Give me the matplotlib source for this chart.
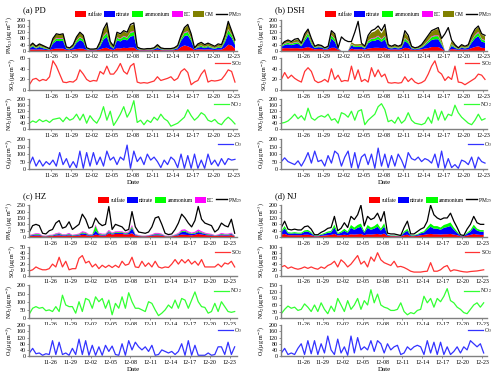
import numpy as np
import matplotlib
matplotlib.use("Agg")
import matplotlib.pyplot as plt
from matplotlib.patches import Patch
from matplotlib.lines import Line2D

plt.rcParams['font.family'] = ['Liberation Serif', 'DejaVu Serif']
plt.rcParams['mathtext.fontset'] = 'stix'

tick_days = [0, 3, 6, 9, 12, 15, 18, 21, 24, 27]
tick_labels = ["11-26", "11-29", "12-02", "12-05", "12-08", "12-11", "12-14", "12-17", "12-20", "12-23"]

# ---------------- PD ----------------
pd_pm = [30,50,30,45,35,25,15,80,110,105,110,25,20,40,90,120,100,20,12,12,15,60,140,180,60,30,120,110,130,120,170,180,25,15,12,15,15,20,40,20,15,15,15,20,35,100,150,170,110,20,45,55,40,50,40,30,45,40,100,190,130,70]
pd_sulfate = [8,10,8,10,8,6,5,12,15,15,15,6,5,8,12,15,14,5,4,4,5,10,18,20,10,6,18,16,20,18,22,22,6,4,4,4,4,5,8,5,4,4,4,5,8,25,35,30,20,5,10,10,8,10,8,6,8,8,20,40,35,15]
pd_nitrate = [8,18,8,15,10,6,3,35,50,48,50,6,5,12,40,55,45,5,2,2,3,20,55,70,20,8,50,45,55,50,70,75,6,3,2,3,3,5,12,5,3,3,3,5,10,40,60,70,45,5,12,15,10,15,10,8,12,10,35,70,50,25]
pd_ammonium = [4,7,4,6,5,4,2,12,15,14,15,3,3,5,13,17,14,3,2,2,2,8,20,25,8,4,16,15,18,16,25,25,3,2,2,2,2,3,5,3,2,2,2,3,4,12,20,22,15,3,6,8,6,7,6,4,6,5,14,25,18,10]
pd_ec = [1,2,1,2,1,1,1,3,4,4,4,1,1,2,3,4,3,1,1,1,1,2,5,6,2,1,4,4,4,4,5,6,1,1,1,1,1,1,2,1,1,1,1,1,1,3,5,5,4,1,2,2,2,2,2,1,2,2,3,6,4,2]
pd_om = [7,11,7,10,9,6,3,15,22,20,22,7,5,10,18,25,20,5,2,2,3,15,35,45,15,8,25,25,28,25,40,42,7,4,2,4,4,5,10,5,4,4,4,5,8,15,25,35,20,5,12,15,10,12,10,8,12,10,22,40,20,15]
pd_so2 = [10,20,22,17,20,18,25,55,45,30,15,14,16,15,20,38,30,20,16,18,17,35,30,45,30,30,38,50,35,30,45,50,15,13,14,13,15,17,25,18,20,22,25,18,22,35,40,33,10,15,18,30,38,15,18,17,18,20,28,38,35,15]
pd_no2 = [40,55,45,65,50,60,45,65,70,75,50,80,60,70,100,60,100,40,90,60,40,80,150,60,120,25,60,100,150,80,120,190,45,60,30,60,45,80,60,100,70,55,20,30,40,60,80,130,90,60,80,110,95,60,50,65,40,30,60,80,60,35]
pd_o3 = [30,80,20,60,20,50,30,60,20,110,30,70,10,50,10,120,5,110,20,110,30,80,20,120,60,80,30,80,60,160,5,120,50,80,30,100,60,80,50,10,60,30,80,60,10,100,5,90,5,100,5,60,5,100,30,60,20,70,30,70,60,65]

# ---------------- DSH ----------------
dsh_pm = [40,60,70,60,75,80,50,110,140,80,30,40,35,20,30,130,110,20,90,70,60,60,120,190,50,30,100,130,140,160,130,170,40,30,40,30,40,130,100,30,20,25,40,70,100,130,140,150,80,110,150,70,40,20,40,30,40,100,140,160,110,100]
dsh_sulfate = [15,18,18,17,18,18,15,20,25,18,10,12,12,8,10,20,20,8,0,0,0,15,10,10,12,8,15,18,20,20,18,20,10,8,10,8,10,20,18,8,6,8,10,15,18,25,25,25,15,0,0,12,10,6,10,8,10,18,25,30,20,18]
dsh_nitrate = [12,20,25,20,25,28,15,45,70,25,8,12,10,5,8,60,40,5,0,0,0,20,15,15,15,8,35,45,45,55,40,55,10,8,10,8,10,45,30,8,4,6,10,20,35,45,50,50,25,0,0,20,10,4,10,8,10,35,55,65,40,35]
dsh_ammonium = [6,8,10,8,10,10,7,15,20,10,4,6,5,3,4,20,15,3,0,0,0,8,6,6,6,4,12,15,15,18,15,18,5,4,5,4,5,15,12,4,3,4,5,8,12,18,20,20,10,0,0,8,5,3,5,4,5,12,18,22,15,12]
dsh_ec = [2,3,3,3,3,3,2,4,5,3,1,2,2,1,1,4,4,1,0,0,0,3,2,2,2,1,4,4,5,5,4,5,2,1,2,1,2,4,4,1,1,1,2,3,4,5,5,6,3,0,0,3,2,1,2,1,2,4,5,6,4,4]
dsh_om = [5,8,10,8,12,15,8,20,15,15,5,7,6,3,5,20,25,3,0,0,0,10,10,10,10,5,25,35,40,45,35,50,10,6,10,6,10,35,25,6,4,5,10,20,25,30,35,40,20,0,0,20,10,4,10,6,10,25,30,30,25,25]
dsh_so2 = [20,33,22,28,22,18,15,35,42,35,18,14,16,20,15,40,20,28,16,18,17,45,20,38,16,20,15,42,25,38,25,30,14,13,14,13,14,25,16,22,15,12,14,18,30,45,55,35,30,18,25,20,45,15,14,10,14,18,22,30,28,20]
dsh_no2 = [40,45,55,75,100,70,90,60,140,75,60,80,90,80,100,60,70,40,110,100,80,120,60,120,130,30,60,80,100,150,170,130,50,60,40,80,40,60,110,60,40,35,30,40,80,40,130,60,120,60,100,90,160,110,80,60,40,30,60,100,60,70]
dsh_o3 = [50,75,50,40,30,55,20,60,110,40,120,50,60,20,90,40,120,100,20,80,120,10,110,5,80,100,30,100,5,140,20,100,10,90,20,100,60,5,110,70,60,80,50,70,60,40,100,10,120,5,70,10,30,5,60,50,30,80,5,80,50,40]

# ---------------- HZ ----------------
hz_pm = [40,90,100,90,30,25,50,60,110,130,70,80,120,60,80,100,180,140,70,80,150,110,90,100,240,60,100,90,80,50,60,200,80,40,35,30,40,80,150,160,100,30,20,25,60,110,180,150,110,80,130,240,140,110,100,90,40,60,110,90,80,140,30]
hz_sulfate = [8,10,12,12,6,5,8,8,12,14,10,10,14,8,10,12,18,16,10,10,20,15,12,12,30,20,25,25,25,20,22,30,12,8,6,6,8,10,14,14,12,6,5,6,10,14,20,18,16,14,18,25,20,16,14,12,8,10,14,12,12,16,6]
hz_nitrate = [3,6,8,7,2,2,4,4,8,10,5,5,8,4,5,6,12,10,5,5,30,8,6,6,10,6,8,8,8,6,10,40,5,3,2,2,3,5,8,8,6,2,2,2,4,8,20,25,15,10,10,15,12,8,6,5,3,4,8,6,6,8,2]
hz_ammonium = [2,4,5,5,2,2,3,3,5,6,4,4,5,3,4,5,8,7,4,4,40,5,4,4,8,5,6,6,6,5,6,15,3,2,2,2,2,3,5,5,4,2,2,2,3,5,8,8,6,5,6,8,6,5,4,4,2,3,5,4,4,5,2]
hz_ec = [3,4,5,5,3,2,3,4,5,6,4,4,6,3,4,5,8,7,4,4,8,6,5,5,8,5,6,6,6,5,6,10,4,3,2,2,3,4,6,6,5,2,2,2,4,6,10,10,8,6,8,12,8,6,5,5,3,4,6,5,5,6,2]
hz_so2 = [8,10,15,12,10,10,12,20,15,32,15,25,10,12,12,30,35,22,25,15,20,12,18,14,18,14,18,14,25,18,20,32,15,14,25,16,22,15,25,15,13,15,14,20,28,20,28,22,28,20,25,18,28,15,15,15,15,20,15,22,20,25,15]
hz_no2 = [25,60,70,60,65,45,50,40,70,40,140,80,70,70,30,100,40,120,110,60,130,100,120,60,110,20,90,60,130,60,155,100,60,60,50,40,100,90,50,15,30,50,80,60,110,60,120,110,60,110,160,100,70,65,30,40,90,40,100,70,40,35,40]
hz_o3 = [20,50,15,20,5,15,10,100,10,90,10,20,5,50,10,110,10,100,5,70,5,60,5,70,30,65,10,5,80,5,100,40,90,60,40,60,30,70,5,10,40,30,20,30,10,30,80,5,100,5,70,5,5,5,20,5,10,60,60,10,90,10,60]

# ---------------- NJ ----------------
nj_pm = [60,100,50,45,50,45,45,65,70,50,15,15,30,40,55,60,130,40,55,90,60,130,110,140,200,70,130,110,120,150,100,160,25,20,20,15,10,60,100,20,20,35,50,60,100,200,140,120,110,120,120,150,100,60,15,10,50,80,130,90,80,80]
nj_sulfate = [15,20,12,12,12,12,12,15,15,12,5,5,8,10,12,14,20,10,12,15,12,18,16,18,20,12,18,16,18,20,16,22,8,6,6,5,4,12,15,6,6,8,12,14,18,20,18,18,16,18,18,20,16,12,5,4,10,14,20,16,14,14]
nj_nitrate = [15,35,12,10,12,10,10,18,20,12,3,3,6,10,15,16,40,10,15,25,15,40,30,40,45,15,40,30,35,45,25,45,5,3,3,2,2,15,25,4,4,6,12,15,30,45,35,35,30,40,45,50,30,15,3,2,12,20,40,25,20,20]
nj_ammonium = [8,15,7,6,7,6,6,9,10,7,2,2,4,6,8,9,18,6,8,12,8,18,14,18,20,8,18,14,16,20,12,20,3,2,2,2,2,8,12,3,3,4,6,8,14,20,16,16,14,18,20,22,14,8,2,2,6,10,18,12,10,10]
nj_so2 = [30,35,25,30,25,22,25,30,25,30,25,22,30,25,35,40,50,30,55,45,30,40,55,70,40,50,30,65,50,80,55,45,40,35,50,30,32,28,22,15,12,12,12,14,15,45,15,15,20,30,35,15,20,18,15,13,12,14,15,16,18,20]
nj_no2 = [20,40,55,45,50,35,40,65,50,30,60,30,70,40,20,55,30,90,60,30,80,40,60,90,40,80,60,130,70,110,60,50,45,35,35,40,70,30,15,25,20,35,40,100,70,90,50,90,75,100,135,80,70,50,40,25,20,40,60,70,50,70]
nj_o3 = [20,50,10,20,10,50,80,10,100,15,100,10,80,20,130,40,10,110,20,60,5,130,20,120,40,60,40,100,30,100,80,20,80,40,60,70,10,20,60,40,60,70,60,10,100,20,90,10,90,10,60,10,30,60,20,60,40,100,80,60,80,20]

C_SUL, C_NIT, C_AMM, C_EC, C_OM = '#FF0000', '#0000FF', '#00FF00', '#FF00FF', '#808000'
C_SO2, C_NO2, C_O3 = '#FF3333', '#33FF33', '#3333FF'
FS = 4.3
LFS = 4.0
SPC = '#808080'

fig = plt.figure(figsize=(5.0, 3.8), dpi=100)

def style(ax, xmax, ylim, yticks):
    ax.set_xlim(-3.3, xmax)
    ax.set_ylim(*ylim)
    ax.set_yticks(yticks)
    ax.set_xticks(tick_days)
    ax.set_xticklabels(tick_labels)
    for s in ['top', 'right']:
        ax.spines[s].set_visible(False)
    for s in ['left', 'bottom']:
        ax.spines[s].set_color(SPC)
        ax.spines[s].set_linewidth(1.0)
    ax.tick_params(direction='out', length=1.5, width=0.6, colors='black', labelsize=FS, pad=1)
    ax.tick_params(axis='both', color=SPC)

def panel(x0, w, rows, title, xmax, comps, comp_names, comp_cols, pm, pmlim, pmticks,
          so2, so2lim, so2ticks, no2, no2lim, no2ticks, o3, o3lim, o3ticks):
    n = len(pm)
    x = -3.25 + 0.5 * np.arange(n)
    axs = [fig.add_axes([x0, b, w, h]) for (b, h) in rows]
    ax = axs[0]
    ax.stackplot(x, *comps, colors=comp_cols, linewidth=0)
    ax.plot(x, pm, color='black', lw=0.9)
    style(ax, xmax, pmlim, pmticks)
    ax.set_ylabel('PM$_{2.5}$(μg m$^{-3}$)', fontsize=FS, labelpad=1)
    handles = [Patch(facecolor=c, edgecolor='none') for c in comp_cols]
    handles.append(Line2D([0], [0], color='black', lw=1.0))
    ax.legend(handles, comp_names + ['PM$_{2.5}$'], loc='lower right', bbox_to_anchor=(1.03, 1.0),
              ncol=len(handles), frameon=False, fontsize=LFS, handlelength=2.0, handleheight=1.3,
              columnspacing=0.35, handletextpad=0.2, borderaxespad=0.0, borderpad=0.1)
    fig.text(x0 - 0.012, rows[0][0] + rows[0][1] + 0.025, title, fontsize=6.2, ha='left', va='center')

    for a, data, col, lim, tks, lab, nm in [
        (axs[1], so2, C_SO2, so2lim, so2ticks, 'SO$_2$(μg m$^{-3}$)', 'SO$_2$'),
        (axs[2], no2, C_NO2, no2lim, no2ticks, 'NO$_2$(μg m$^{-3}$)', 'NO$_2$'),
        (axs[3], o3, C_O3, o3lim, o3ticks, 'O$_3$(μg m$^{-3}$)', 'O$_3$')]:
        xx = -3.25 + 0.5 * np.arange(len(data))
        a.plot(xx, data, color=col, lw=0.9, label=nm)
        style(a, xmax, lim, tks)
        a.set_ylabel(lab, fontsize=FS, labelpad=1)
        a.legend(loc='upper right', bbox_to_anchor=(1.03, 1.0), frameon=False, fontsize=LFS,
                 handlelength=2.6, handletextpad=0.3, borderaxespad=0.1, borderpad=0.1)
    axs[3].set_xlabel('Date', fontsize=5, labelpad=2)

LX0, LW = 0.058, 0.416
RX0, RW = 0.562, 0.412
top_rows = [(0.866, 0.082), (0.763, 0.084), (0.660, 0.079), (0.555, 0.079)]
bot_rows = [(0.376, 0.084), (0.275, 0.075), (0.163, 0.086), (0.063, 0.081)]

names5 = ['sulfate', 'nitrate', 'ammonium', 'EC', 'OM']
cols5 = [C_SUL, C_NIT, C_AMM, C_EC, C_OM]

panel(LX0, LW, top_rows, '(a) PD', 27.55,
      [pd_sulfate, pd_nitrate, pd_ammonium, pd_ec, pd_om], names5, cols5,
      pd_pm, (0, 200), [0, 40, 80, 120, 160, 200],
      pd_so2, (0, 60), [0, 20, 40, 60],
      pd_no2, (0, 200), [0, 40, 80, 120, 160, 200],
      pd_o3, (0, 200), [0, 50, 100, 150, 200])

panel(RX0, RW, top_rows, '(b) DSH', 27.55,
      [dsh_sulfate, dsh_nitrate, dsh_ammonium, dsh_ec, dsh_om], names5, cols5,
      dsh_pm, (0, 200), [0, 40, 80, 120, 160, 200],
      dsh_so2, (0, 60), [0, 20, 40, 60],
      dsh_no2, (0, 200), [0, 40, 80, 120, 160, 200],
      dsh_o3, (0, 200), [0, 50, 100, 150, 200])

panel(LX0, LW, bot_rows, '(c) HZ', 28.1,
      [hz_sulfate, hz_nitrate, hz_ammonium, hz_ec], names5[:4], cols5[:4],
      hz_pm, (0, 250), [0, 50, 100, 150, 200, 250],
      hz_so2, (0, 50), [0, 10, 20, 30, 40, 50],
      hz_no2, (0, 200), [0, 50, 100, 150, 200],
      hz_o3, (0, 200), [0, 40, 80, 120, 160, 200])

panel(RX0, RW, bot_rows, '(d) NJ', 27.75,
      [nj_sulfate, nj_nitrate, nj_ammonium], names5[:3], cols5[:3],
      nj_pm, (0, 200), [0, 40, 80, 120, 160, 200],
      nj_so2, (0, 100), [0, 20, 40, 60, 80, 100],
      nj_no2, (0, 150), [0, 30, 60, 90, 120, 150],
      nj_o3, (0, 200), [0, 40, 80, 120, 160, 200])

fig.savefig('out.png', dpi=100)
